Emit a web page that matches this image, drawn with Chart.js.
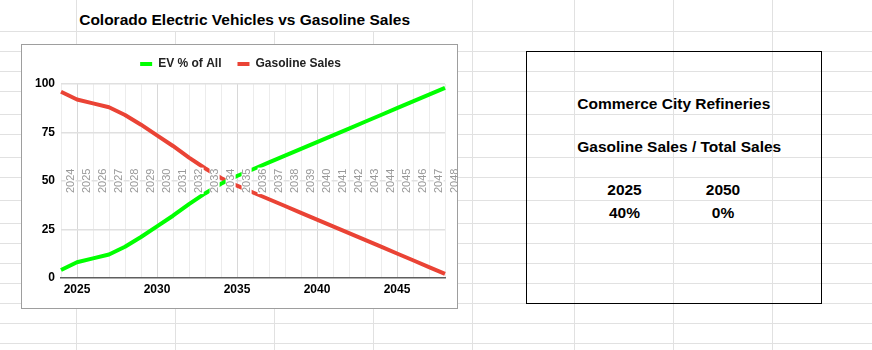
<!DOCTYPE html>
<html>
<head>
<meta charset="utf-8">
<script src="https://cdn.jsdelivr.net/npm/chart.js@4.4.1/dist/chart.umd.min.js"></script>
<style>
  body { margin: 0; width: 872px; height: 350px; position: relative; overflow: hidden; background: #fff; font-family: "Liberation Sans", Arial, sans-serif; }
  .hline { position: absolute; left: 0; width: 872px; height: 1px; background: #e1e1e1; }
  .vline { position: absolute; width: 1px; bottom: 0; background: #e1e1e1; }
  .txt { position: absolute; font-weight: bold; font-size: 15.5px; line-height: 0; white-space: nowrap; color: #000; }
  .mid { transform: translateX(-50%); }
  #frame { position: absolute; left: 21px; top: 44px; width: 437px; height: 265px; box-sizing: border-box; border: 1px solid #9e9e9e; background: #fff; }
  #chart { position: absolute; left: 24px; top: 42px; }
  #box { position: absolute; left: 526px; top: 51px; width: 296px; height: 253px; box-sizing: border-box; border: 1px solid #000; }
</style>
</head>
<body>
<div id="sheet"></div>
<div class="txt" style="left:79.2px; top:20.1px;">Colorado Electric Vehicles vs Gasoline Sales</div>
<div id="frame"></div>
<canvas id="chart" width="433" height="266"></canvas>
<div id="box"></div>
<div class="txt" style="left:577.3px; top:103.6px;">Commerce City Refineries</div>
<div class="txt" style="left:577.3px; top:146.6px;">Gasoline Sales / Total Sales</div>
<div class="txt mid" style="left:624.5px; top:189.9px;">2025</div>
<div class="txt mid" style="left:723px; top:189.9px;">2050</div>
<div class="txt mid" style="left:624.5px; top:212.9px;">40%</div>
<div class="txt mid" style="left:723px; top:212.9px;">0%</div>
<script>
// chart data
const years = ["2024", "2025", "2026", "2027", "2028", "2029", "2030", "2031", "2032",
  "2033", "2034", "2035", "2036", "2037", "2038", "2039", "2040", "2041", "2042",
  "2043", "2044", "2045", "2046", "2047", "2048"];
const evShare = [4, 8, 10, 12, 16, 21, 26.5, 32, 38, 43.5, 48.5, 52.5, 56, 59.5, 63,
  66.5, 70, 73.5, 77, 80.5, 84, 87.5, 91, 94.5, 98];
const gasSales = [96, 92, 90, 88, 84, 79, 73.5, 68, 62, 56.5, 51.5, 47.5, 44, 40.5, 37,
  33.5, 30, 26.5, 23, 19.5, 16, 12.5, 9, 5.5, 2];
const yTicks = [0, 25, 50, 75, 100];

// spreadsheet cell lines behind everything
const rowLines = [31, 51, 71, 91, 114, 134, 157, 177, 200, 223, 243, 263, 283, 303, 323, 343];
const colLines = [[76, 0], [175, 31], [274, 31], [373, 31], [472, 0], [574, 0], [673, 0], [772, 0]];
const sheet = document.getElementById("sheet");
rowLines.forEach((y) => {
  const d = document.createElement("div");
  d.className = "hline";
  d.style.top = y + "px";
  sheet.appendChild(d);
});
colLines.forEach(([x, top]) => {
  const d = document.createElement("div");
  d.className = "vline";
  d.style.left = x + "px";
  d.style.top = top + "px";
  sheet.appendChild(d);
});

Chart.defaults.font.family = '"Liberation Sans", Arial, sans-serif';
Chart.defaults.font.size = 12;

// a little more room under the legend than chart.js gives by default
const legendSpacer = {
  id: "legendSpacer",
  beforeLayout(chart) {
    const legend = chart.legend;
    if (!legend || legend.spaced) return;
    const fit = legend.fit;
    legend.fit = function () {
      fit.call(this);
      this.height += 4;
    };
    legend.spaced = true;
  },
};

// rotated grey year tags along the 50 line
const yearTags = {
  id: "yearTags",
  afterDatasetsDraw(chart) {
    const { ctx, scales: { x, y } } = chart;
    const yc = y.getPixelForValue(50);
    ctx.save();
    ctx.font = '11px "Liberation Sans", Arial, sans-serif';
    ctx.textAlign = "center";
    ctx.textBaseline = "middle";
    years.forEach((yr, i) => {
      const xc = x.getPixelForValue(i + 0.6);
      const w = ctx.measureText(yr).width;
      ctx.fillStyle = "#fff";
      ctx.fillRect(xc - 5, yc - w / 2 - 1, 10, w + 2);
      ctx.save();
      ctx.translate(xc, yc);
      ctx.rotate(-Math.PI / 2);
      ctx.fillStyle = "#999";
      ctx.fillText(yr, 0, 0);
      ctx.restore();
    });
    ctx.restore();
  },
};

const ctx = document.getElementById("chart").getContext("2d");
new Chart(ctx, {
  type: "line",
  data: {
    labels: years,
    datasets: [
      {
        label: "EV % of All",
        data: evShare,
        borderColor: "#00ff00",
        backgroundColor: "#00ff00",
        borderWidth: 4,
        pointRadius: 0,
        tension: 0,
        borderJoinStyle: "round",
      },
      {
        label: "Gasoline Sales",
        data: gasSales,
        borderColor: "#ea4335",
        backgroundColor: "#ea4335",
        borderWidth: 4,
        pointRadius: 0,
        tension: 0,
        borderJoinStyle: "round",
      },
    ],
  },
  options: {
    responsive: false,
    animation: false,
    layout: { padding: 0 },
    plugins: {
      legend: {
        position: "top",
        labels: {
          boxWidth: 12,
          boxHeight: 4,
          padding: 16,
          color: "#222",
          font: { size: 12, weight: "bold" },
          generateLabels: (chart) =>
            Chart.defaults.plugins.legend.labels
              .generateLabels(chart)
              .map((l) => ({ ...l, lineWidth: 0 })),
        },
      },
      tooltip: { enabled: false },
    },
    scales: {
      x: {
        type: "category",
        offset: false,
        grid: {
          offset: false,
          drawTicks: false,
          color: (c) => (Number(years[c.index]) % 5 === 0 ? "#d8d8d8" : "#ececec"),
        },
        border: { color: "#5f5f5f", width: 1.5 },
        ticks: {
          autoSkip: false,
          maxRotation: 0,
          padding: 5,
          color: "#000",
          font: { size: 12, weight: "bold" },
          callback(value) {
            const lab = this.getLabelForValue(value);
            return Number(lab) % 5 === 0 ? lab : "";
          },
        },
        afterFit: (s) => { s.height = 30.3; },
      },
      y: {
        min: 0,
        max: 100,
        afterBuildTicks: (s) => { s.ticks = yTicks.map((v) => ({ value: v })); },
        grid: {
          drawTicks: false,
          lineWidth: 1.5,
          color: (c) => (c.tick && c.tick.value === 0 ? "rgba(0,0,0,0)" : "#e0e0e0"),
        },
        border: { display: false },
        ticks: { padding: 6, color: "#000", font: { size: 12, weight: "bold" } },
        afterFit: (s) => { s.width = 37; },
      },
      y2: {
        position: "right",
        grid: { display: false },
        border: { display: false },
        ticks: { display: false },
        afterFit: (s) => { s.width = 12; },
      },
    },
  },
  plugins: [legendSpacer, yearTags],
});
</script>
</body>
</html>
